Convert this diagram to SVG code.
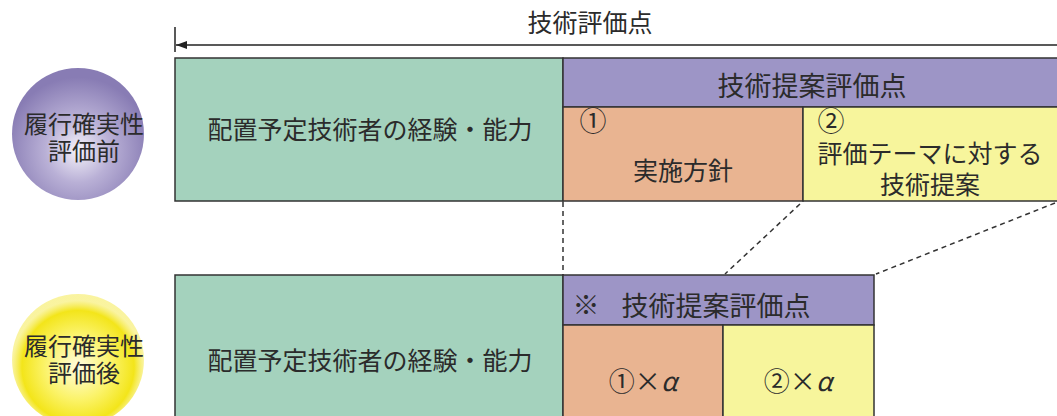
<svg xmlns="http://www.w3.org/2000/svg" width="1057" height="416" viewBox="0 0 1057 416">
<style>
text{font-family:"Noto Sans CJK JP","Noto Sans CJK SC",sans-serif;fill:#2b2b2b;dominant-baseline:central;text-anchor:middle}
.box{stroke:#333;stroke-width:1.5}
.green{fill:#a4d2bd}
.purple{fill:#9d95c6}
.orange{fill:#e9b491}
.yellow{fill:#f7f59c}
.dash{stroke:#333;stroke-width:1.5;stroke-dasharray:5 4;fill:none}
</style>
<defs>
<radialGradient id="gp" cx="0.5" cy="0.62" r="0.55">
<stop offset="0" stop-color="#f4f2fa"/>
<stop offset="0.45" stop-color="#b9b0d6"/>
<stop offset="1" stop-color="#887cb4"/>
</radialGradient>
<radialGradient id="gy" cx="0.5" cy="0.55" r="0.5">
<stop offset="0" stop-color="#fffde0"/>
<stop offset="0.5" stop-color="#fbf36a"/>
<stop offset="0.85" stop-color="#f3e51a"/>
<stop offset="1" stop-color="#f6ec60" stop-opacity="0.6"/>
</radialGradient>
<marker id="ah" markerWidth="12" markerHeight="10" refX="11" refY="5" orient="auto" markerUnits="userSpaceOnUse">
<path d="M0,1 L11,5 L0,9 Z" fill="#222"/>
</marker>
</defs>
<rect width="1057" height="416" fill="#ffffff"/>

<g id="dimension">
<line x1="175" y1="27" x2="175" y2="52" stroke="#222" stroke-width="1.5"/>
<line x1="1057" y1="45" x2="176" y2="45" stroke="#222" stroke-width="1.5" marker-end="url(#ah)"/>
<text x="590" y="21" font-size="25">技術評価点</text>
</g>

<g id="circle-before">
<circle cx="78" cy="134" r="66" fill="url(#gp)"/>
<text font-size="24"><tspan x="84" y="122">履行確実性</tspan><tspan x="84" y="149">評価前</tspan></text>
</g>

<g id="circle-after">
<circle cx="78" cy="360" r="66" fill="url(#gy)"/>
<text font-size="24"><tspan x="84" y="344">履行確実性</tspan><tspan x="84" y="371">評価後</tspan></text>
</g>

<g id="top-experience">
<rect class="box green" x="175" y="58" width="388" height="143"/>
<text x="370" y="128" font-size="25">配置予定技術者の経験・能力</text>
</g>
<g id="top-proposal-header">
<rect class="box purple" x="563" y="58" width="500" height="49"/>
<text x="812" y="84" font-size="27">技術提案評価点</text>
</g>
<g id="top-policy">
<rect class="box orange" x="563" y="107" width="240" height="94"/>
<text x="593" y="119" font-size="27">①</text>
<text x="683" y="169" font-size="25">実施方針</text>
</g>
<g id="top-theme">
<rect class="box yellow" x="803" y="107" width="260" height="94"/>
<text font-size="25"><tspan x="831" y="119" font-size="27">②</tspan><tspan x="930" y="152">評価テーマに対する</tspan><tspan x="930" y="183">技術提案</tspan></text>
</g>

<g id="connectors">
<line class="dash" x1="563" y1="202" x2="563" y2="275"/>
<line class="dash" x1="800" y1="204" x2="725" y2="274"/>
<line class="dash" x1="1055" y1="203" x2="876" y2="274"/>
</g>

<g id="bottom-experience">
<rect class="box green" x="175" y="275" width="388" height="150"/>
<text x="370" y="359" font-size="25">配置予定技術者の経験・能力</text>
</g>
<g id="bottom-proposal-header">
<rect class="box purple" x="563" y="275" width="311" height="50"/>
<text x="586" y="303" font-size="27">※</text>
<text x="716" y="304" font-size="27">技術提案評価点</text>
</g>
<g id="bottom-policy">
<rect class="box orange" x="563" y="325" width="160" height="100"/>
<text x="643" y="379" font-size="26">①×<tspan font-style="italic">α</tspan></text>
</g>
<g id="bottom-theme">
<rect class="box yellow" x="723" y="325" width="151" height="100"/>
<text x="798" y="379" font-size="26">②×<tspan font-style="italic">α</tspan></text>
</g>
</svg>
